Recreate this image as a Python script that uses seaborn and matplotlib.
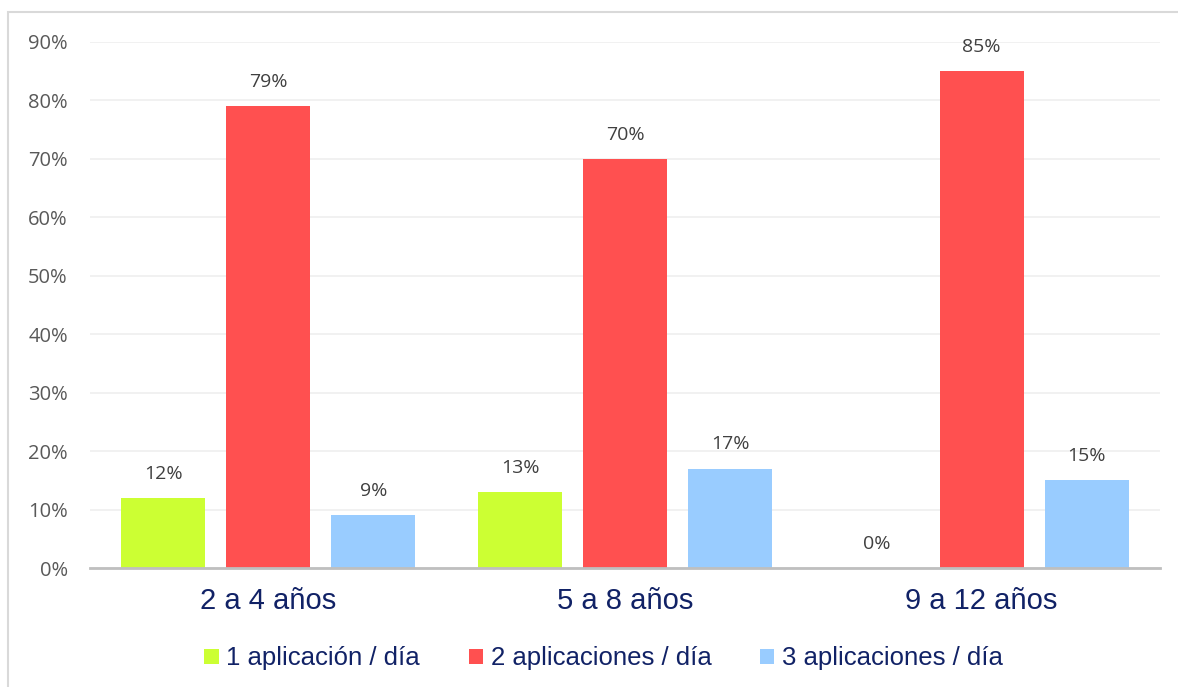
import pandas as pd
import seaborn as sns
import matplotlib.pyplot as plt
from matplotlib.patches import Rectangle
from matplotlib.ticker import PercentFormatter

# Datos del gráfico
edades = ['2 a 4 años', '5 a 8 años', '9 a 12 años']
series = ['1 aplicación / día', '2 aplicaciones / día', '3 aplicaciones / día']
una_aplicacion = [0.12, 0.13, 0.00]
dos_aplicaciones = [0.79, 0.70, 0.85]
tres_aplicaciones = [0.09, 0.17, 0.15]
colores = ['#CCFF33', '#FF5050', '#99CCFF']

df = pd.DataFrame({
    'edad': edades * 3,
    'serie': [series[0]] * 3 + [series[1]] * 3 + [series[2]] * 3,
    'valor': una_aplicacion + dos_aplicaciones + tres_aplicaciones,
})

sns.set_theme(style='white')
plt.rcParams['font.family'] = ['Open Sans', 'DejaVu Sans']

fig = plt.figure(figsize=(11.78, 6.87), dpi=100)
ax = fig.add_axes([0.0764, 0.1732, 0.9083, 0.7657])

# Marco gris alrededor del gráfico
fig.patches.append(Rectangle((8 / 1178, -0.05), 1.1, 1 - 12 / 687 + 0.05,
                             transform=fig.transFigure, fill=False,
                             edgecolor='#D9D9D9', linewidth=1.5, zorder=0))

sns.barplot(data=df, x='edad', y='valor', hue='serie', hue_order=series,
            palette=colores, width=0.883, gap=0.2, saturation=1,
            edgecolor='none', ax=ax, legend=True)

ax.set_ylim(0, 0.9)
ax.set_xlim(-0.5, 2.5)
ax.set_yticks([i / 10 for i in range(10)])
ax.yaxis.set_major_formatter(PercentFormatter(1.0, decimals=0))
ax.grid(axis='y', color='#EFEFEF', linewidth=1.2)
ax.set_axisbelow(True)
for lado in ['top', 'right', 'left']:
    ax.spines[lado].set_visible(False)
ax.spines['bottom'].set_color('#BFBFBF')
ax.spines['bottom'].set_linewidth(2)
ax.tick_params(axis='y', labelsize=14.5, labelcolor='#595959', length=0, pad=16)
ax.tick_params(axis='x', length=0, pad=14)
for lbl in ax.get_xticklabels():
    lbl.set_fontfamily('Liberation Sans')
    lbl.set_fontsize(21)
    lbl.set_color('#112266')
ax.set_xlabel('')
ax.set_ylabel('')

# Etiquetas de datos
for cont in ax.containers:
    etiquetas = [f'{v * 100:.0f}%' for v in cont.datavalues]
    ax.bar_label(cont, labels=etiquetas, padding=11, fontsize=14, color='#404040')

leg = ax.legend(loc='upper center', bbox_to_anchor=(0.48, -0.105), ncol=3,
                frameon=False, handlelength=0.55, handleheight=0.55,
                handletextpad=0.3, columnspacing=1.9,
                prop={'family': 'Liberation Sans', 'size': 18.5})
for t in leg.get_texts():
    t.set_color('#112266')

fig.savefig('out.png', dpi=100)
